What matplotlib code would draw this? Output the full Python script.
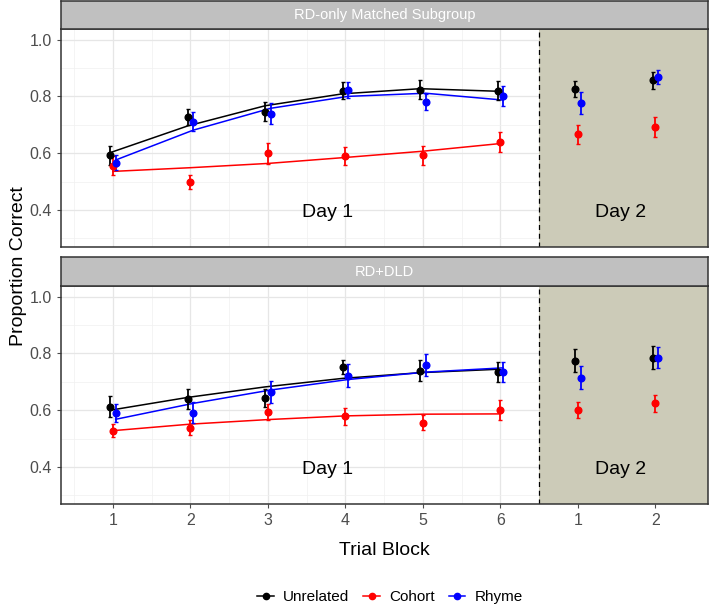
import numpy as np
import matplotlib
matplotlib.use("Agg")
import matplotlib.pyplot as plt
from matplotlib.lines import Line2D

plt.rcParams['font.family'] = ['Liberation Sans', 'DejaVu Sans']

# x positions: blocks 1-6 are Day 1, 7-8 are Day 2 blocks 1-2
blocks = [1, 2, 3, 4, 5, 6, 7, 8]
block_labels = ['1', '2', '3', '4', '5', '6', '1', '2']
fit_blocks = [1, 2, 3, 4, 5, 6]

panel_titles = ['RD-only Matched Subgroup', 'RD+DLD']
conditions = ['Unrelated', 'Cohort', 'Rhyme']
colors = ['black', 'red', 'blue']

# RD-only matched subgroup
rd_unrel = [0.592, 0.728, 0.746, 0.820, 0.824, 0.820, 0.825, 0.856]
rd_unrel_err = [0.034, 0.028, 0.033, 0.030, 0.034, 0.033, 0.028, 0.030]
rd_cohort = [0.556, 0.499, 0.599, 0.591, 0.592, 0.640, 0.666, 0.692]
rd_cohort_err = [0.034, 0.025, 0.036, 0.032, 0.034, 0.035, 0.032, 0.034]
rd_rhyme = [0.566, 0.711, 0.739, 0.822, 0.780, 0.801, 0.776, 0.868]
rd_rhyme_err = [0.026, 0.034, 0.038, 0.028, 0.028, 0.035, 0.038, 0.026]
rd_unrel_fit = [0.602, 0.696, 0.767, 0.809, 0.827, 0.818]
rd_cohort_fit = [0.536, 0.549, 0.564, 0.585, 0.607, 0.634]
rd_rhyme_fit = [0.576, 0.681, 0.758, 0.800, 0.811, 0.787]

# RD+DLD
dld_unrel = [0.612, 0.639, 0.642, 0.752, 0.738, 0.734, 0.774, 0.785]
dld_unrel_err = [0.037, 0.035, 0.031, 0.025, 0.037, 0.034, 0.040, 0.040]
dld_cohort = [0.527, 0.539, 0.593, 0.579, 0.556, 0.600, 0.601, 0.624]
dld_cohort_err = [0.023, 0.026, 0.028, 0.030, 0.026, 0.036, 0.029, 0.031]
dld_rhyme = [0.589, 0.591, 0.665, 0.722, 0.759, 0.733, 0.715, 0.785]
dld_rhyme_err = [0.032, 0.037, 0.038, 0.040, 0.038, 0.035, 0.040, 0.037]
dld_unrel_fit = [0.600, 0.645, 0.682, 0.712, 0.732, 0.744]
dld_cohort_fit = [0.528, 0.551, 0.567, 0.580, 0.586, 0.587]
dld_rhyme_fit = [0.568, 0.624, 0.671, 0.708, 0.734, 0.749]

panels = [
    ([rd_unrel, rd_cohort, rd_rhyme],
     [rd_unrel_err, rd_cohort_err, rd_rhyme_err],
     [rd_unrel_fit, rd_cohort_fit, rd_rhyme_fit]),
    ([dld_unrel, dld_cohort, dld_rhyme],
     [dld_unrel_err, dld_cohort_err, dld_rhyme_err],
     [dld_unrel_fit, dld_cohort_fit, dld_rhyme_fit]),
]

dodge = [-0.035, 0.0, 0.035]
xlim = (0.33, 8.68)
ylim = (0.27, 1.037)
day2_fill = '#cccbb8'

W, H = 709, 606
fig = plt.figure(figsize=(W / 100, H / 100), dpi=100)

# pixel layout (top, bottom) of the panels and strips
panel_px = [(29, 247), (286, 504)]
strip_px = [(1, 29), (257, 286)]
left_px, right_px = 61, 708


def to_fig(top, bottom):
    return [left_px / W, (H - bottom) / H, (right_px - left_px) / W, (bottom - top) / H]


for i, (means, errs, fits) in enumerate(panels):
    ax = fig.add_axes(to_fig(*panel_px[i]))
    ax.set_xlim(*xlim)
    ax.set_ylim(*ylim)

    # grid
    ax.set_xticks(blocks)
    ax.set_xticks(np.arange(0.5, 9, 1.0), minor=True)
    ax.set_yticks([0.4, 0.6, 0.8, 1.0])
    ax.set_yticks([0.3, 0.5, 0.7, 0.9], minor=True)
    ax.grid(which='major', color='#e6e6e6', linewidth=0.9, zorder=0)
    ax.grid(which='minor', color='#f0f0f0', linewidth=0.5, zorder=0)
    ax.set_axisbelow(True)

    # Day 2 shading
    ax.axvspan(6.5, xlim[1], color=day2_fill, zorder=1, linewidth=0)
    ax.axvline(6.5, color='black', linestyle=(0, (4, 3)), linewidth=0.9, zorder=2)

    for c in range(3):
        xs = np.array(blocks) + dodge[c]
        ax.errorbar(xs, means[c], yerr=errs[c], fmt='o', color=colors[c],
                    markersize=4.8, elinewidth=1.3, capsize=1.5, capthick=1.0, zorder=4)
        ax.plot(np.array(fit_blocks) + dodge[c], fits[c], color=colors[c],
                linewidth=1.1, zorder=3)

    ax.text(3.77, 0.39, 'Day 1', ha='center', va='center', fontsize=14, zorder=5)
    ax.text(7.55, 0.39, 'Day 2', ha='center', va='center', fontsize=14, zorder=5)

    ax.set_yticklabels(['0.4', '0.6', '0.8', '1.0'])
    if i == 1:
        ax.set_xticklabels(block_labels)
        ax.set_xlabel('Trial Block', fontsize=14, labelpad=10)
    else:
        ax.set_xticklabels([])
    ax.tick_params(axis='both', which='major', colors='#4d4d4d', labelsize=11.5,
                   length=3, width=0.8, labelcolor='#4d4d4d')
    ax.tick_params(axis='x', which='major', length=3 if i == 1 else 0)
    ax.tick_params(which='minor', length=0)
    for s in ax.spines.values():
        s.set_color('#333333')
        s.set_linewidth(1.1)
        s.set_zorder(6)

    # strip
    sax = fig.add_axes(to_fig(*strip_px[i]))
    sax.set_facecolor('#c0c0c0')
    sax.set_xticks([])
    sax.set_yticks([])
    for s in sax.spines.values():
        s.set_color('#333333')
        s.set_linewidth(1.1)
    sax.text(0.5, 0.5, panel_titles[i], color='white', fontsize=10.5,
             ha='center', va='center', transform=sax.transAxes)

fig.text(10 / W, 1 - 266 / H, 'Proportion Correct', rotation=90, fontsize=14,
         ha='left', va='center')

handles = [Line2D([0], [0], color=colors[c], marker='o', markersize=4.5, linewidth=1.1)
           for c in range(3)]
fig.legend(handles, conditions, loc='center', bbox_to_anchor=(390 / W, 1 - 597 / H),
           ncol=3, frameon=False, fontsize=11, handlelength=1.1, handletextpad=0.6,
           columnspacing=0.9)

fig.savefig('out.png', dpi=100)
